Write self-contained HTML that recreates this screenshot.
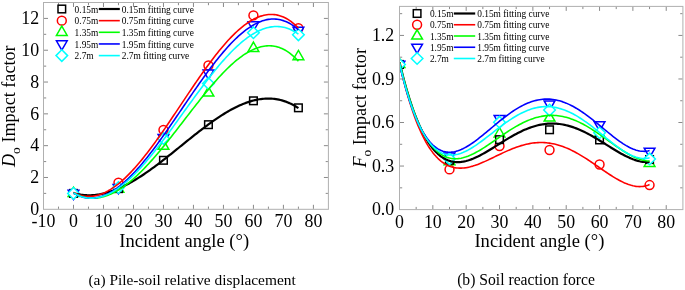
<!DOCTYPE html>
<html><head><meta charset="utf-8"><style>
html,body{margin:0;padding:0;background:#fff;}
body{width:685px;height:290px;overflow:hidden;}
svg{display:block;font-family:"Liberation Serif", serif;filter:blur(0.35px);}
</style></head><body>
<svg width="685" height="290" viewBox="0 0 685 290" fill="#000">
<clipPath id="cl"><rect x="43.5" y="2.5" width="284.9" height="206.8"/></clipPath>
<g clip-path="url(#cl)">
<circle cx="73.49" cy="193.39" r="4.45" fill="#fff" stroke="#ff0000" stroke-width="1.5"/>
<circle cx="118.47" cy="182.58" r="4.45" fill="#fff" stroke="#ff0000" stroke-width="1.5"/>
<circle cx="163.46" cy="129.92" r="4.45" fill="#fff" stroke="#ff0000" stroke-width="1.5"/>
<circle cx="208.44" cy="65.49" r="4.45" fill="#fff" stroke="#ff0000" stroke-width="1.5"/>
<circle cx="253.43" cy="15.39" r="4.45" fill="#fff" stroke="#ff0000" stroke-width="1.5"/>
<circle cx="298.41" cy="28.27" r="4.45" fill="#fff" stroke="#ff0000" stroke-width="1.5"/>
<polygon points="73.49,187.19 78.86,196.49 68.12,196.49" fill="#fff" stroke="#00ff00" stroke-width="1.5" stroke-linejoin="miter"/>
<polygon points="118.47,183.06 123.84,192.36 113.10,192.36" fill="#fff" stroke="#00ff00" stroke-width="1.5" stroke-linejoin="miter"/>
<polygon points="163.46,139.95 168.83,149.25 158.09,149.25" fill="#fff" stroke="#00ff00" stroke-width="1.5" stroke-linejoin="miter"/>
<polygon points="208.44,86.81 213.81,96.11 203.07,96.11" fill="#fff" stroke="#00ff00" stroke-width="1.5" stroke-linejoin="miter"/>
<polygon points="253.43,42.11 258.80,51.41 248.06,51.41" fill="#fff" stroke="#00ff00" stroke-width="1.5" stroke-linejoin="miter"/>
<polygon points="298.41,50.39 303.78,59.69 293.04,59.69" fill="#fff" stroke="#00ff00" stroke-width="1.5" stroke-linejoin="miter"/>
<rect x="69.69" y="189.59" width="7.6" height="7.6" fill="#fff" stroke="#000000" stroke-width="1.5"/>
<rect x="114.67" y="184.82" width="7.6" height="7.6" fill="#fff" stroke="#000000" stroke-width="1.5"/>
<rect x="159.66" y="156.50" width="7.6" height="7.6" fill="#fff" stroke="#000000" stroke-width="1.5"/>
<rect x="204.64" y="120.87" width="7.6" height="7.6" fill="#fff" stroke="#000000" stroke-width="1.5"/>
<rect x="249.63" y="97.01" width="7.6" height="7.6" fill="#fff" stroke="#000000" stroke-width="1.5"/>
<rect x="294.61" y="104.01" width="7.6" height="7.6" fill="#fff" stroke="#000000" stroke-width="1.5"/>
<polygon points="73.49,199.59 78.86,190.29 68.12,190.29" fill="#fff" stroke="#0000ff" stroke-width="1.5" stroke-linejoin="miter"/>
<polygon points="118.47,193.71 123.84,184.41 113.10,184.41" fill="#fff" stroke="#0000ff" stroke-width="1.5" stroke-linejoin="miter"/>
<polygon points="163.46,143.76 168.83,134.46 158.09,134.46" fill="#fff" stroke="#0000ff" stroke-width="1.5" stroke-linejoin="miter"/>
<polygon points="208.44,79.33 213.81,70.03 203.07,70.03" fill="#fff" stroke="#0000ff" stroke-width="1.5" stroke-linejoin="miter"/>
<polygon points="253.43,31.13 258.80,21.83 248.06,21.83" fill="#fff" stroke="#0000ff" stroke-width="1.5" stroke-linejoin="miter"/>
<polygon points="298.41,36.54 303.78,27.24 293.04,27.24" fill="#fff" stroke="#0000ff" stroke-width="1.5" stroke-linejoin="miter"/>
<polygon points="73.49,187.59 79.29,193.39 73.49,199.19 67.69,193.39" fill="#fff" stroke="#00ffff" stroke-width="1.5"/>
<polygon points="118.47,181.71 124.27,187.51 118.47,193.31 112.67,187.51" fill="#fff" stroke="#00ffff" stroke-width="1.5"/>
<polygon points="163.46,132.71 169.26,138.51 163.46,144.31 157.66,138.51" fill="#fff" stroke="#00ffff" stroke-width="1.5"/>
<polygon points="208.44,77.67 214.24,83.47 208.44,89.27 202.64,83.47" fill="#fff" stroke="#00ffff" stroke-width="1.5"/>
<polygon points="253.43,26.92 259.23,32.72 253.43,38.52 247.63,32.72" fill="#fff" stroke="#00ffff" stroke-width="1.5"/>
<polygon points="298.41,28.99 304.21,34.79 298.41,40.59 292.61,34.79" fill="#fff" stroke="#00ffff" stroke-width="1.5"/>
<polyline points="73.49,193.06 74.99,193.47 76.49,193.83 77.99,194.15 79.49,194.43 80.99,194.67 82.49,194.86 83.99,195.02 85.49,195.13 86.98,195.20 88.48,195.23 89.98,195.23 91.48,195.19 92.98,195.10 94.48,194.99 95.98,194.83 97.48,194.64 98.98,194.42 100.48,194.16 101.98,193.86 103.48,193.53 104.98,193.17 106.48,192.78 107.98,192.35 109.48,191.90 110.98,191.41 112.48,190.90 113.98,190.35 115.47,189.78 116.97,189.17 118.47,188.54 119.97,187.89 121.47,187.20 122.97,186.50 124.47,185.76 125.97,185.00 127.47,184.22 128.97,183.42 130.47,182.59 131.97,181.74 133.47,180.87 134.97,179.98 136.47,179.06 137.97,178.13 139.47,177.18 140.97,176.21 142.47,175.23 143.96,174.23 145.46,173.21 146.96,172.17 148.46,171.12 149.96,170.06 151.46,168.98 152.96,167.89 154.46,166.79 155.96,165.67 157.46,164.55 158.96,163.41 160.46,162.26 161.96,161.11 163.46,159.95 164.96,158.77 166.46,157.60 167.96,156.41 169.46,155.22 170.96,154.02 172.45,152.82 173.95,151.62 175.45,150.41 176.95,149.20 178.45,147.99 179.95,146.77 181.45,145.56 182.95,144.35 184.45,143.14 185.95,141.93 187.45,140.72 188.95,139.51 190.45,138.31 191.95,137.11 193.45,135.92 194.95,134.73 196.45,133.55 197.95,132.38 199.45,131.21 200.94,130.06 202.44,128.91 203.94,127.77 205.44,126.65 206.94,125.53 208.44,124.43 209.94,123.34 211.44,122.26 212.94,121.20 214.44,120.15 215.94,119.12 217.44,118.10 218.94,117.10 220.44,116.12 221.94,115.16 223.44,114.22 224.94,113.29 226.44,112.39 227.94,111.51 229.43,110.65 230.93,109.81 232.43,109.00 233.93,108.21 235.43,107.45 236.93,106.71 238.43,106.00 239.93,105.32 241.43,104.67 242.93,104.04 244.43,103.44 245.93,102.88 247.43,102.34 248.93,101.84 250.43,101.37 251.93,100.93 253.43,100.53 254.93,100.16 256.43,99.83 257.92,99.54 259.42,99.28 260.92,99.06 262.42,98.88 263.92,98.73 265.42,98.63 266.92,98.57 268.42,98.55 269.92,98.58 271.42,98.64 272.92,98.75 274.42,98.91 275.92,99.11 277.42,99.36 278.92,99.66 280.42,100.00 281.92,100.40 283.42,100.84 284.92,101.33 286.41,101.88 287.91,102.47 289.41,103.12 290.91,103.83 292.41,104.58 293.91,105.40 295.41,106.27 296.91,107.19 298.41,108.18" fill="none" stroke="#000000" stroke-width="2.2" stroke-linejoin="round"/>
<polyline points="73.49,192.40 74.99,193.16 76.49,193.84 77.99,194.44 79.49,194.96 80.99,195.39 82.49,195.75 83.99,196.03 85.49,196.24 86.98,196.36 88.48,196.42 89.98,196.40 91.48,196.31 92.98,196.15 94.48,195.92 95.98,195.63 97.48,195.26 98.98,194.83 100.48,194.33 101.98,193.77 103.48,193.15 104.98,192.47 106.48,191.73 107.98,190.92 109.48,190.06 110.98,189.15 112.48,188.18 113.98,187.15 115.47,186.07 116.97,184.94 118.47,183.76 119.97,182.52 121.47,181.24 122.97,179.92 124.47,178.54 125.97,177.12 127.47,175.66 128.97,174.15 130.47,172.61 131.97,171.02 133.47,169.39 134.97,167.73 136.47,166.03 137.97,164.29 139.47,162.52 140.97,160.72 142.47,158.88 143.96,157.02 145.46,155.12 146.96,153.20 148.46,151.25 149.96,149.27 151.46,147.27 152.96,145.24 154.46,143.19 155.96,141.12 157.46,139.04 158.96,136.93 160.46,134.80 161.96,132.66 163.46,130.50 164.96,128.33 166.46,126.15 167.96,123.95 169.46,121.74 170.96,119.53 172.45,117.30 173.95,115.07 175.45,112.84 176.95,110.60 178.45,108.36 179.95,106.11 181.45,103.87 182.95,101.62 184.45,99.38 185.95,97.14 187.45,94.90 188.95,92.67 190.45,90.44 191.95,88.23 193.45,86.02 194.95,83.82 196.45,81.64 197.95,79.46 199.45,77.31 200.94,75.16 202.44,73.03 203.94,70.92 205.44,68.83 206.94,66.76 208.44,64.71 209.94,62.69 211.44,60.68 212.94,58.71 214.44,56.75 215.94,54.83 217.44,52.93 218.94,51.07 220.44,49.24 221.94,47.43 223.44,45.67 224.94,43.93 226.44,42.24 227.94,40.58 229.43,38.96 230.93,37.38 232.43,35.84 233.93,34.34 235.43,32.89 236.93,31.48 238.43,30.12 239.93,28.81 241.43,27.54 242.93,26.33 244.43,25.16 245.93,24.05 247.43,22.99 248.93,21.99 250.43,21.05 251.93,20.16 253.43,19.33 254.93,18.56 256.43,17.85 257.92,17.20 259.42,16.62 260.92,16.11 262.42,15.66 263.92,15.27 265.42,14.96 266.92,14.72 268.42,14.55 269.92,14.45 271.42,14.43 272.92,14.48 274.42,14.61 275.92,14.81 277.42,15.10 278.92,15.46 280.42,15.91 281.92,16.44 283.42,17.06 284.92,17.76 286.41,18.55 287.91,19.42 289.41,20.39 290.91,21.45 292.41,22.60 293.91,23.84 295.41,25.17 296.91,26.61 298.41,28.14" fill="none" stroke="#ff0000" stroke-width="1.6" stroke-linejoin="round"/>
<polyline points="73.49,192.84 74.99,193.65 76.49,194.40 77.99,195.07 79.49,195.67 80.99,196.21 82.49,196.68 83.99,197.08 85.49,197.42 86.98,197.69 88.48,197.90 89.98,198.05 91.48,198.13 92.98,198.16 94.48,198.12 95.98,198.02 97.48,197.86 98.98,197.65 100.48,197.38 101.98,197.05 103.48,196.66 104.98,196.23 106.48,195.73 107.98,195.19 109.48,194.59 110.98,193.95 112.48,193.25 113.98,192.50 115.47,191.71 116.97,190.86 118.47,189.98 119.97,189.04 121.47,188.06 122.97,187.04 124.47,185.98 125.97,184.87 127.47,183.72 128.97,182.54 130.47,181.31 131.97,180.05 133.47,178.75 134.97,177.41 136.47,176.04 137.97,174.63 139.47,173.19 140.97,171.72 142.47,170.22 143.96,168.69 145.46,167.13 146.96,165.54 148.46,163.92 149.96,162.28 151.46,160.61 152.96,158.92 154.46,157.21 155.96,155.48 157.46,153.72 158.96,151.94 160.46,150.15 161.96,148.34 163.46,146.51 164.96,144.66 166.46,142.81 167.96,140.93 169.46,139.05 170.96,137.15 172.45,135.25 173.95,133.33 175.45,131.41 176.95,129.48 178.45,127.55 179.95,125.61 181.45,123.66 182.95,121.72 184.45,119.77 185.95,117.82 187.45,115.88 188.95,113.94 190.45,112.00 191.95,110.06 193.45,108.13 194.95,106.21 196.45,104.29 197.95,102.39 199.45,100.49 200.94,98.61 202.44,96.73 203.94,94.88 205.44,93.03 206.94,91.21 208.44,89.40 209.94,87.61 211.44,85.84 212.94,84.09 214.44,82.36 215.94,80.66 217.44,78.98 218.94,77.33 220.44,75.70 221.94,74.11 223.44,72.54 224.94,71.01 226.44,69.50 227.94,68.03 229.43,66.60 230.93,65.20 232.43,63.84 233.93,62.51 235.43,61.23 236.93,59.99 238.43,58.79 239.93,57.63 241.43,56.52 242.93,55.46 244.43,54.44 245.93,53.48 247.43,52.56 248.93,51.70 250.43,50.88 251.93,50.13 253.43,49.43 254.93,48.78 256.43,48.20 257.92,47.67 259.42,47.20 260.92,46.80 262.42,46.46 263.92,46.19 265.42,45.99 266.92,45.85 268.42,45.78 269.92,45.78 271.42,45.85 272.92,46.00 274.42,46.23 275.92,46.53 277.42,46.90 278.92,47.36 280.42,47.90 281.92,48.52 283.42,49.22 284.92,50.01 286.41,50.89 287.91,51.85 289.41,52.90 290.91,54.05 292.41,55.28 293.91,56.61 295.41,58.04 296.91,59.56 298.41,61.18" fill="none" stroke="#00ff00" stroke-width="1.6" stroke-linejoin="round"/>
<polyline points="73.49,193.00 74.99,193.87 76.49,194.66 77.99,195.36 79.49,195.98 80.99,196.51 82.49,196.97 83.99,197.35 85.49,197.65 86.98,197.87 88.48,198.02 89.98,198.10 91.48,198.10 92.98,198.02 94.48,197.88 95.98,197.67 97.48,197.39 98.98,197.05 100.48,196.63 101.98,196.16 103.48,195.61 104.98,195.01 106.48,194.35 107.98,193.62 109.48,192.84 110.98,192.00 112.48,191.10 113.98,190.15 115.47,189.14 116.97,188.08 118.47,186.97 119.97,185.81 121.47,184.60 122.97,183.34 124.47,182.03 125.97,180.68 127.47,179.29 128.97,177.85 130.47,176.37 131.97,174.85 133.47,173.28 134.97,171.68 136.47,170.05 137.97,168.37 139.47,166.66 140.97,164.92 142.47,163.15 143.96,161.34 145.46,159.50 146.96,157.64 148.46,155.74 149.96,153.82 151.46,151.88 152.96,149.91 154.46,147.92 155.96,145.90 157.46,143.87 158.96,141.81 160.46,139.74 161.96,137.65 163.46,135.54 164.96,133.42 166.46,131.29 167.96,129.14 169.46,126.98 170.96,124.81 172.45,122.64 173.95,120.45 175.45,118.26 176.95,116.07 178.45,113.87 179.95,111.66 181.45,109.46 182.95,107.25 184.45,105.05 185.95,102.85 187.45,100.65 188.95,98.45 190.45,96.27 191.95,94.08 193.45,91.91 194.95,89.74 196.45,87.59 197.95,85.44 199.45,83.31 200.94,81.19 202.44,79.09 203.94,77.00 205.44,74.93 206.94,72.88 208.44,70.85 209.94,68.84 211.44,66.85 212.94,64.89 214.44,62.95 215.94,61.03 217.44,59.15 218.94,57.29 220.44,55.46 221.94,53.65 223.44,51.89 224.94,50.15 226.44,48.45 227.94,46.78 229.43,45.15 230.93,43.56 232.43,42.00 233.93,40.49 235.43,39.02 236.93,37.58 238.43,36.20 239.93,34.85 241.43,33.56 242.93,32.31 244.43,31.10 245.93,29.95 247.43,28.85 248.93,27.80 250.43,26.80 251.93,25.86 253.43,24.97 254.93,24.14 256.43,23.36 257.92,22.65 259.42,21.99 260.92,21.40 262.42,20.86 263.92,20.40 265.42,19.99 266.92,19.65 268.42,19.38 269.92,19.18 271.42,19.05 272.92,18.99 274.42,19.00 275.92,19.08 277.42,19.23 278.92,19.47 280.42,19.78 281.92,20.16 283.42,20.63 284.92,21.17 286.41,21.80 287.91,22.51 289.41,23.30 290.91,24.18 292.41,25.14 293.91,26.19 295.41,27.33 296.91,28.56 298.41,29.88" fill="none" stroke="#0000ff" stroke-width="1.6" stroke-linejoin="round"/>
<polyline points="73.49,192.97 74.99,193.83 76.49,194.60 77.99,195.30 79.49,195.91 80.99,196.45 82.49,196.91 83.99,197.30 85.49,197.61 86.98,197.85 88.48,198.02 89.98,198.11 91.48,198.14 92.98,198.10 94.48,197.99 95.98,197.81 97.48,197.57 98.98,197.27 100.48,196.90 101.98,196.47 103.48,195.98 104.98,195.44 106.48,194.83 107.98,194.17 109.48,193.45 110.98,192.67 112.48,191.85 113.98,190.96 115.47,190.03 116.97,189.05 118.47,188.02 119.97,186.94 121.47,185.82 122.97,184.64 124.47,183.43 125.97,182.17 127.47,180.87 128.97,179.52 130.47,178.14 131.97,176.72 133.47,175.26 134.97,173.76 136.47,172.23 137.97,170.66 139.47,169.06 140.97,167.43 142.47,165.77 143.96,164.07 145.46,162.35 146.96,160.60 148.46,158.82 149.96,157.02 151.46,155.19 152.96,153.34 154.46,151.47 155.96,149.58 157.46,147.66 158.96,145.73 160.46,143.78 161.96,141.82 163.46,139.83 164.96,137.84 166.46,135.83 167.96,133.80 169.46,131.77 170.96,129.73 172.45,127.67 173.95,125.61 175.45,123.55 176.95,121.47 178.45,119.40 179.95,117.32 181.45,115.23 182.95,113.15 184.45,111.06 185.95,108.98 187.45,106.90 188.95,104.82 190.45,102.75 191.95,100.68 193.45,98.61 194.95,96.56 196.45,94.51 197.95,92.48 199.45,90.45 200.94,88.44 202.44,86.43 203.94,84.45 205.44,82.47 206.94,80.52 208.44,78.58 209.94,76.66 211.44,74.76 212.94,72.88 214.44,71.02 215.94,69.18 217.44,67.37 218.94,65.58 220.44,63.82 221.94,62.08 223.44,60.37 224.94,58.69 226.44,57.05 227.94,55.43 229.43,53.84 230.93,52.29 232.43,50.77 233.93,49.29 235.43,47.85 236.93,46.44 238.43,45.07 239.93,43.74 241.43,42.45 242.93,41.21 244.43,40.00 245.93,38.84 247.43,37.73 248.93,36.66 250.43,35.64 251.93,34.67 253.43,33.74 254.93,32.87 256.43,32.05 257.92,31.28 259.42,30.56 260.92,29.90 262.42,29.29 263.92,28.74 265.42,28.25 266.92,27.82 268.42,27.44 269.92,27.13 271.42,26.88 272.92,26.69 274.42,26.57 275.92,26.51 277.42,26.52 278.92,26.59 280.42,26.73 281.92,26.94 283.42,27.23 284.92,27.58 286.41,28.00 287.91,28.50 289.41,29.08 290.91,29.72 292.41,30.45 293.91,31.25 295.41,32.13 296.91,33.09 298.41,34.13" fill="none" stroke="#00ffff" stroke-width="1.6" stroke-linejoin="round"/>
</g>
<rect x="43.5" y="2.5" width="284.9" height="206.8" fill="none" stroke="#b0b0b0" stroke-width="1"/>
<path d="M58.49,208.8v-2.2M58.49,3.0v2.2M73.49,208.8v-4M73.49,3.0v4M88.48,208.8v-2.2M88.48,3.0v2.2M103.48,208.8v-4M103.48,3.0v4M118.47,208.8v-2.2M118.47,3.0v2.2M133.47,208.8v-4M133.47,3.0v4M148.46,208.8v-2.2M148.46,3.0v2.2M163.46,208.8v-4M163.46,3.0v4M178.45,208.8v-2.2M178.45,3.0v2.2M193.45,208.8v-4M193.45,3.0v4M208.44,208.8v-2.2M208.44,3.0v2.2M223.44,208.8v-4M223.44,3.0v4M238.43,208.8v-2.2M238.43,3.0v2.2M253.43,208.8v-4M253.43,3.0v4M268.42,208.8v-2.2M268.42,3.0v2.2M283.42,208.8v-4M283.42,3.0v4M298.41,208.8v-2.2M298.41,3.0v2.2M313.41,208.8v-4M313.41,3.0v4M44.0,193.39h2.2M327.9,193.39h-2.2M44.0,177.48h4M327.9,177.48h-4M44.0,161.58h2.2M327.9,161.58h-2.2M44.0,145.67h4M327.9,145.67h-4M44.0,129.76h2.2M327.9,129.76h-2.2M44.0,113.85h4M327.9,113.85h-4M44.0,97.95h2.2M327.9,97.95h-2.2M44.0,82.04h4M327.9,82.04h-4M44.0,66.13h2.2M327.9,66.13h-2.2M44.0,50.22h4M327.9,50.22h-4M44.0,34.32h2.2M327.9,34.32h-2.2M44.0,18.41h4M327.9,18.41h-4" stroke="#8a8a8a" stroke-width="1" fill="none"/>
<text transform="translate(43.50,227.3) scale(0.94,1)" text-anchor="middle" font-size="19">-10</text>
<text transform="translate(73.49,227.3) scale(0.94,1)" text-anchor="middle" font-size="19">0</text>
<text transform="translate(103.48,227.3) scale(0.94,1)" text-anchor="middle" font-size="19">10</text>
<text transform="translate(133.47,227.3) scale(0.94,1)" text-anchor="middle" font-size="19">20</text>
<text transform="translate(163.46,227.3) scale(0.94,1)" text-anchor="middle" font-size="19">30</text>
<text transform="translate(193.45,227.3) scale(0.94,1)" text-anchor="middle" font-size="19">40</text>
<text transform="translate(223.44,227.3) scale(0.94,1)" text-anchor="middle" font-size="19">50</text>
<text transform="translate(253.43,227.3) scale(0.94,1)" text-anchor="middle" font-size="19">60</text>
<text transform="translate(283.42,227.3) scale(0.94,1)" text-anchor="middle" font-size="19">70</text>
<text transform="translate(313.41,227.3) scale(0.94,1)" text-anchor="middle" font-size="19">80</text>
<text transform="translate(39.2,215.10) scale(0.94,1)" text-anchor="end" font-size="19">0</text>
<text transform="translate(39.2,183.28) scale(0.94,1)" text-anchor="end" font-size="19">2</text>
<text transform="translate(39.2,151.47) scale(0.94,1)" text-anchor="end" font-size="19">4</text>
<text transform="translate(39.2,119.65) scale(0.94,1)" text-anchor="end" font-size="19">6</text>
<text transform="translate(39.2,87.84) scale(0.94,1)" text-anchor="end" font-size="19">8</text>
<text transform="translate(39.2,56.02) scale(0.94,1)" text-anchor="end" font-size="19">10</text>
<text transform="translate(39.2,24.21) scale(0.94,1)" text-anchor="end" font-size="19">12</text>
<clipPath id="cr"><rect x="399.5" y="6.4" width="283.4" height="203.2"/></clipPath>
<g clip-path="url(#cr)">
<circle cx="399.50" cy="64.46" r="4.45" fill="#fff" stroke="#ff0000" stroke-width="1.5"/>
<circle cx="449.51" cy="169.40" r="4.45" fill="#fff" stroke="#ff0000" stroke-width="1.5"/>
<circle cx="499.52" cy="146.03" r="4.45" fill="#fff" stroke="#ff0000" stroke-width="1.5"/>
<circle cx="549.54" cy="149.95" r="4.45" fill="#fff" stroke="#ff0000" stroke-width="1.5"/>
<circle cx="599.55" cy="164.46" r="4.45" fill="#fff" stroke="#ff0000" stroke-width="1.5"/>
<circle cx="649.56" cy="185.07" r="4.45" fill="#fff" stroke="#ff0000" stroke-width="1.5"/>
<polygon points="399.50,58.26 404.87,67.56 394.13,67.56" fill="#fff" stroke="#00ff00" stroke-width="1.5" stroke-linejoin="miter"/>
<polygon points="449.51,155.50 454.88,164.80 444.14,164.80" fill="#fff" stroke="#00ff00" stroke-width="1.5" stroke-linejoin="miter"/>
<polygon points="499.52,127.64 504.89,136.94 494.15,136.94" fill="#fff" stroke="#00ff00" stroke-width="1.5" stroke-linejoin="miter"/>
<polygon points="549.54,111.81 554.90,121.11 544.17,121.11" fill="#fff" stroke="#00ff00" stroke-width="1.5" stroke-linejoin="miter"/>
<polygon points="599.55,127.93 604.92,137.23 594.18,137.23" fill="#fff" stroke="#00ff00" stroke-width="1.5" stroke-linejoin="miter"/>
<polygon points="649.56,157.10 654.93,166.40 644.19,166.40" fill="#fff" stroke="#00ff00" stroke-width="1.5" stroke-linejoin="miter"/>
<rect x="395.70" y="60.66" width="7.6" height="7.6" fill="#fff" stroke="#000000" stroke-width="1.5"/>
<rect x="445.71" y="156.45" width="7.6" height="7.6" fill="#fff" stroke="#000000" stroke-width="1.5"/>
<rect x="495.72" y="135.84" width="7.6" height="7.6" fill="#fff" stroke="#000000" stroke-width="1.5"/>
<rect x="545.74" y="125.97" width="7.6" height="7.6" fill="#fff" stroke="#000000" stroke-width="1.5"/>
<rect x="595.75" y="136.13" width="7.6" height="7.6" fill="#fff" stroke="#000000" stroke-width="1.5"/>
<rect x="645.76" y="155.73" width="7.6" height="7.6" fill="#fff" stroke="#000000" stroke-width="1.5"/>
<polygon points="399.50,70.66 404.87,61.36 394.13,61.36" fill="#fff" stroke="#0000ff" stroke-width="1.5" stroke-linejoin="miter"/>
<polygon points="449.51,162.39 454.88,153.09 444.14,153.09" fill="#fff" stroke="#0000ff" stroke-width="1.5" stroke-linejoin="miter"/>
<polygon points="499.52,124.80 504.89,115.50 494.15,115.50" fill="#fff" stroke="#0000ff" stroke-width="1.5" stroke-linejoin="miter"/>
<polygon points="549.54,110.28 554.90,100.98 544.17,100.98" fill="#fff" stroke="#0000ff" stroke-width="1.5" stroke-linejoin="miter"/>
<polygon points="599.55,131.04 604.92,121.74 594.18,121.74" fill="#fff" stroke="#0000ff" stroke-width="1.5" stroke-linejoin="miter"/>
<polygon points="649.56,157.53 654.93,148.23 644.19,148.23" fill="#fff" stroke="#0000ff" stroke-width="1.5" stroke-linejoin="miter"/>
<polygon points="399.50,58.66 405.30,64.46 399.50,70.26 393.70,64.46" fill="#fff" stroke="#00ffff" stroke-width="1.5"/>
<polygon points="449.51,153.00 455.31,158.80 449.51,164.60 443.71,158.80" fill="#fff" stroke="#00ffff" stroke-width="1.5"/>
<polygon points="499.52,116.42 505.32,122.22 499.52,128.02 493.72,122.22" fill="#fff" stroke="#00ffff" stroke-width="1.5"/>
<polygon points="549.54,104.23 555.34,110.03 549.54,115.83 543.74,110.03" fill="#fff" stroke="#00ffff" stroke-width="1.5"/>
<polygon points="599.55,126.87 605.35,132.67 599.55,138.47 593.75,132.67" fill="#fff" stroke="#00ffff" stroke-width="1.5"/>
<polygon points="649.56,153.15 655.36,158.95 649.56,164.75 643.76,158.95" fill="#fff" stroke="#00ffff" stroke-width="1.5"/>
<polyline points="399.50,62.21 401.17,69.12 402.83,75.71 404.50,81.99 406.17,87.97 407.84,93.65 409.50,99.04 411.17,104.16 412.84,109.00 414.50,113.57 416.17,117.89 417.84,121.96 419.50,125.79 421.17,129.38 422.84,132.74 424.51,135.88 426.17,138.80 427.84,141.52 429.51,144.04 431.17,146.36 432.84,148.49 434.51,150.44 436.18,152.22 437.84,153.83 439.51,155.27 441.18,156.56 442.84,157.70 444.51,158.69 446.18,159.55 447.84,160.27 449.51,160.87 451.18,161.34 452.85,161.69 454.51,161.94 456.18,162.08 457.85,162.12 459.51,162.06 461.18,161.91 462.85,161.68 464.52,161.36 466.18,160.98 467.85,160.51 469.52,159.99 471.18,159.40 472.85,158.75 474.52,158.05 476.18,157.30 477.85,156.51 479.52,155.67 481.19,154.80 482.85,153.89 484.52,152.95 486.19,151.99 487.85,151.01 489.52,150.01 491.19,148.99 492.86,147.96 494.52,146.92 496.19,145.87 497.86,144.83 499.52,143.78 501.19,142.74 502.86,141.70 504.52,140.67 506.19,139.65 507.86,138.65 509.53,137.66 511.19,136.70 512.86,135.75 514.53,134.82 516.19,133.92 517.86,133.05 519.53,132.21 521.20,131.40 522.86,130.62 524.53,129.87 526.20,129.16 527.86,128.49 529.53,127.85 531.20,127.26 532.86,126.70 534.53,126.19 536.20,125.72 537.87,125.29 539.53,124.91 541.20,124.58 542.87,124.29 544.53,124.05 546.20,123.85 547.87,123.70 549.54,123.60 551.20,123.55 552.87,123.54 554.54,123.58 556.20,123.68 557.87,123.81 559.54,124.00 561.20,124.23 562.87,124.51 564.54,124.84 566.21,125.21 567.87,125.62 569.54,126.08 571.21,126.59 572.87,127.13 574.54,127.72 576.21,128.35 577.88,129.01 579.54,129.71 581.21,130.45 582.88,131.22 584.54,132.03 586.21,132.87 587.88,133.73 589.54,134.63 591.21,135.54 592.88,136.49 594.55,137.45 596.21,138.43 597.88,139.43 599.55,140.45 601.21,141.47 602.88,142.51 604.55,143.55 606.22,144.59 607.88,145.64 609.55,146.68 611.22,147.72 612.88,148.75 614.55,149.77 616.22,150.78 617.88,151.77 619.55,152.73 621.22,153.67 622.89,154.58 624.55,155.46 626.22,156.31 627.89,157.11 629.55,157.87 631.22,158.58 632.89,159.23 634.56,159.83 636.22,160.37 637.89,160.85 639.56,161.25 641.22,161.58 642.89,161.83 644.56,161.99 646.22,162.06 647.89,162.04 649.56,161.92" fill="none" stroke="#000000" stroke-width="2.2" stroke-linejoin="round"/>
<polyline points="399.50,63.78 401.17,70.85 402.83,77.61 404.50,84.04 406.17,90.17 407.84,95.99 409.50,101.52 411.17,106.77 412.84,111.75 414.50,116.45 416.17,120.89 417.84,125.08 419.50,129.03 421.17,132.73 422.84,136.21 424.51,139.46 426.17,142.50 427.84,145.33 429.51,147.96 431.17,150.39 432.84,152.63 434.51,154.70 436.18,156.59 437.84,158.31 439.51,159.86 441.18,161.27 442.84,162.52 444.51,163.63 446.18,164.61 447.84,165.45 449.51,166.17 451.18,166.76 452.85,167.25 454.51,167.62 456.18,167.90 457.85,168.07 459.51,168.16 461.18,168.15 462.85,168.07 464.52,167.91 466.18,167.67 467.85,167.37 469.52,167.01 471.18,166.58 472.85,166.11 474.52,165.58 476.18,165.01 477.85,164.40 479.52,163.75 481.19,163.07 482.85,162.36 484.52,161.63 486.19,160.88 487.85,160.10 489.52,159.32 491.19,158.52 492.86,157.71 494.52,156.90 496.19,156.09 497.86,155.29 499.52,154.48 501.19,153.69 502.86,152.90 504.52,152.13 506.19,151.37 507.86,150.63 509.53,149.92 511.19,149.22 512.86,148.55 514.53,147.91 516.19,147.29 517.86,146.71 519.53,146.15 521.20,145.64 522.86,145.15 524.53,144.71 526.20,144.30 527.86,143.93 529.53,143.60 531.20,143.32 532.86,143.08 534.53,142.88 536.20,142.72 537.87,142.62 539.53,142.55 541.20,142.54 542.87,142.57 544.53,142.64 546.20,142.77 547.87,142.94 549.54,143.16 551.20,143.42 552.87,143.73 554.54,144.09 556.20,144.50 557.87,144.95 559.54,145.45 561.20,145.99 562.87,146.57 564.54,147.20 566.21,147.87 567.87,148.58 569.54,149.33 571.21,150.12 572.87,150.94 574.54,151.80 576.21,152.70 577.88,153.62 579.54,154.58 581.21,155.57 582.88,156.58 584.54,157.62 586.21,158.68 587.88,159.76 589.54,160.86 591.21,161.97 592.88,163.10 594.55,164.24 596.21,165.38 597.88,166.53 599.55,167.68 601.21,168.83 602.88,169.98 604.55,171.12 606.22,172.25 607.88,173.36 609.55,174.46 611.22,175.53 612.88,176.58 614.55,177.60 616.22,178.59 617.88,179.54 619.55,180.45 621.22,181.32 622.89,182.13 624.55,182.90 626.22,183.60 627.89,184.24 629.55,184.82 631.22,185.32 632.89,185.75 634.56,186.09 636.22,186.35 637.89,186.51 639.56,186.58 641.22,186.54 642.89,186.40 644.56,186.14 646.22,185.76 647.89,185.26 649.56,184.62" fill="none" stroke="#ff0000" stroke-width="1.6" stroke-linejoin="round"/>
<polyline points="399.50,62.15 401.17,69.04 402.83,75.61 404.50,81.85 406.17,87.79 407.84,93.43 409.50,98.77 411.17,103.83 412.84,108.60 414.50,113.11 416.17,117.36 417.84,121.35 419.50,125.09 421.17,128.59 422.84,131.86 424.51,134.90 426.17,137.73 427.84,140.34 429.51,142.75 431.17,144.96 432.84,146.98 434.51,148.82 436.18,150.48 437.84,151.96 439.51,153.28 441.18,154.44 442.84,155.45 444.51,156.32 446.18,157.04 447.84,157.63 449.51,158.09 451.18,158.43 452.85,158.64 454.51,158.75 456.18,158.75 457.85,158.65 459.51,158.46 461.18,158.17 462.85,157.80 464.52,157.35 466.18,156.82 467.85,156.22 469.52,155.56 471.18,154.83 472.85,154.05 474.52,153.21 476.18,152.33 477.85,151.40 479.52,150.44 481.19,149.44 482.85,148.40 484.52,147.34 486.19,146.25 487.85,145.15 489.52,144.03 491.19,142.89 492.86,141.75 494.52,140.59 496.19,139.44 497.86,138.28 499.52,137.13 501.19,135.99 502.86,134.85 504.52,133.73 506.19,132.62 507.86,131.52 509.53,130.45 511.19,129.40 512.86,128.37 514.53,127.37 516.19,126.39 517.86,125.45 519.53,124.54 521.20,123.67 522.86,122.83 524.53,122.03 526.20,121.27 527.86,120.55 529.53,119.87 531.20,119.23 532.86,118.64 534.53,118.10 536.20,117.60 537.87,117.16 539.53,116.76 541.20,116.41 542.87,116.11 544.53,115.86 546.20,115.66 547.87,115.51 549.54,115.42 551.20,115.38 552.87,115.39 554.54,115.45 556.20,115.56 557.87,115.73 559.54,115.95 561.20,116.22 562.87,116.54 564.54,116.91 566.21,117.33 567.87,117.80 569.54,118.32 571.21,118.89 572.87,119.50 574.54,120.16 576.21,120.86 577.88,121.61 579.54,122.39 581.21,123.22 582.88,124.08 584.54,124.98 586.21,125.92 587.88,126.89 589.54,127.89 591.21,128.92 592.88,129.98 594.55,131.06 596.21,132.17 597.88,133.29 599.55,134.43 601.21,135.59 602.88,136.76 604.55,137.95 606.22,139.13 607.88,140.33 609.55,141.52 611.22,142.71 612.88,143.90 614.55,145.08 616.22,146.24 617.88,147.39 619.55,148.52 621.22,149.63 622.89,150.72 624.55,151.77 626.22,152.79 627.89,153.77 629.55,154.70 631.22,155.59 632.89,156.43 634.56,157.22 636.22,157.94 637.89,158.60 639.56,159.20 641.22,159.71 642.89,160.15 644.56,160.51 646.22,160.77 647.89,160.94 649.56,161.02" fill="none" stroke="#00ff00" stroke-width="1.6" stroke-linejoin="round"/>
<polyline points="399.50,64.23 401.17,71.13 402.83,77.67 404.50,83.86 406.17,89.72 407.84,95.25 409.50,100.46 411.17,105.37 412.84,109.98 414.50,114.29 416.17,118.32 417.84,122.08 419.50,125.58 421.17,128.81 422.84,131.80 424.51,134.55 426.17,137.07 427.84,139.37 429.51,141.44 431.17,143.31 432.84,144.98 434.51,146.45 436.18,147.74 437.84,148.85 439.51,149.79 441.18,150.57 442.84,151.19 444.51,151.65 446.18,151.98 447.84,152.16 449.51,152.22 451.18,152.15 452.85,151.97 454.51,151.67 456.18,151.27 457.85,150.77 459.51,150.17 461.18,149.49 462.85,148.73 464.52,147.88 466.18,146.97 467.85,145.99 469.52,144.96 471.18,143.86 472.85,142.72 474.52,141.53 476.18,140.30 477.85,139.03 479.52,137.73 481.19,136.41 482.85,135.06 484.52,133.70 486.19,132.32 487.85,130.93 489.52,129.53 491.19,128.13 492.86,126.74 494.52,125.34 496.19,123.96 497.86,122.59 499.52,121.23 501.19,119.89 502.86,118.57 504.52,117.28 506.19,116.01 507.86,114.77 509.53,113.57 511.19,112.40 512.86,111.26 514.53,110.17 516.19,109.12 517.86,108.11 519.53,107.15 521.20,106.23 522.86,105.36 524.53,104.55 526.20,103.78 527.86,103.07 529.53,102.42 531.20,101.82 532.86,101.28 534.53,100.79 536.20,100.37 537.87,100.00 539.53,99.70 541.20,99.46 542.87,99.27 544.53,99.15 546.20,99.09 547.87,99.10 549.54,99.16 551.20,99.29 552.87,99.48 554.54,99.73 556.20,100.04 557.87,100.41 559.54,100.84 561.20,101.33 562.87,101.88 564.54,102.48 566.21,103.14 567.87,103.86 569.54,104.62 571.21,105.44 572.87,106.31 574.54,107.23 576.21,108.19 577.88,109.20 579.54,110.26 581.21,111.35 582.88,112.48 584.54,113.65 586.21,114.85 587.88,116.08 589.54,117.35 591.21,118.63 592.88,119.94 594.55,121.28 596.21,122.62 597.88,123.99 599.55,125.36 601.21,126.74 602.88,128.12 604.55,129.50 606.22,130.88 607.88,132.25 609.55,133.61 611.22,134.96 612.88,136.28 614.55,137.58 616.22,138.85 617.88,140.09 619.55,141.29 621.22,142.45 622.89,143.57 624.55,144.63 626.22,145.63 627.89,146.57 629.55,147.44 631.22,148.24 632.89,148.96 634.56,149.60 636.22,150.15 637.89,150.60 639.56,150.95 641.22,151.19 642.89,151.32 644.56,151.33 646.22,151.21 647.89,150.96 649.56,150.57" fill="none" stroke="#0000ff" stroke-width="1.6" stroke-linejoin="round"/>
<polyline points="399.50,63.25 401.17,70.25 402.83,76.89 404.50,83.19 406.17,89.16 407.84,94.80 409.50,100.13 411.17,105.15 412.84,109.88 414.50,114.31 416.17,118.47 417.84,122.35 419.50,125.97 421.17,129.34 422.84,132.46 424.51,135.33 426.17,137.98 427.84,140.41 429.51,142.62 431.17,144.62 432.84,146.42 434.51,148.03 436.18,149.45 437.84,150.70 439.51,151.77 441.18,152.68 442.84,153.43 444.51,154.03 446.18,154.49 447.84,154.81 449.51,155.00 451.18,155.07 452.85,155.01 454.51,154.85 456.18,154.57 457.85,154.20 459.51,153.73 461.18,153.18 462.85,152.54 464.52,151.82 466.18,151.03 467.85,150.17 469.52,149.25 471.18,148.28 472.85,147.25 474.52,146.18 476.18,145.06 477.85,143.90 479.52,142.72 481.19,141.50 482.85,140.26 484.52,138.99 486.19,137.72 487.85,136.43 489.52,135.13 491.19,133.82 492.86,132.52 494.52,131.22 496.19,129.92 497.86,128.64 499.52,127.36 501.19,126.11 502.86,124.87 504.52,123.65 506.19,122.46 507.86,121.29 509.53,120.15 511.19,119.05 512.86,117.98 514.53,116.95 516.19,115.96 517.86,115.00 519.53,114.10 521.20,113.23 522.86,112.41 524.53,111.65 526.20,110.93 527.86,110.26 529.53,109.64 531.20,109.08 532.86,108.58 534.53,108.12 536.20,107.73 537.87,107.39 539.53,107.11 541.20,106.89 542.87,106.73 544.53,106.63 546.20,106.59 547.87,106.61 549.54,106.69 551.20,106.82 552.87,107.02 554.54,107.28 556.20,107.59 557.87,107.97 559.54,108.40 561.20,108.89 562.87,109.43 564.54,110.03 566.21,110.68 567.87,111.39 569.54,112.15 571.21,112.96 572.87,113.81 574.54,114.72 576.21,115.67 577.88,116.67 579.54,117.70 581.21,118.78 582.88,119.89 584.54,121.04 586.21,122.22 587.88,123.44 589.54,124.68 591.21,125.95 592.88,127.24 594.55,128.55 596.21,129.87 597.88,131.21 599.55,132.57 601.21,133.92 602.88,135.29 604.55,136.65 606.22,138.01 607.88,139.36 609.55,140.71 611.22,142.03 612.88,143.34 614.55,144.63 616.22,145.89 617.88,147.11 619.55,148.31 621.22,149.46 622.89,150.56 624.55,151.62 626.22,152.62 627.89,153.56 629.55,154.43 631.22,155.24 632.89,155.97 634.56,156.61 636.22,157.18 637.89,157.64 639.56,158.02 641.22,158.28 642.89,158.44 644.56,158.48 646.22,158.40 647.89,158.19 649.56,157.84" fill="none" stroke="#00ffff" stroke-width="1.6" stroke-linejoin="round"/>
</g>
<rect x="399.5" y="6.4" width="283.4" height="203.2" fill="none" stroke="#b0b0b0" stroke-width="1"/>
<path d="M416.17,209.1v-2.2M416.17,6.9v2.2M432.84,209.1v-4M432.84,6.9v4M449.51,209.1v-2.2M449.51,6.9v2.2M466.18,209.1v-4M466.18,6.9v4M482.85,209.1v-2.2M482.85,6.9v2.2M499.52,209.1v-4M499.52,6.9v4M516.19,209.1v-2.2M516.19,6.9v2.2M532.86,209.1v-4M532.86,6.9v4M549.54,209.1v-2.2M549.54,6.9v2.2M566.21,209.1v-4M566.21,6.9v4M582.88,209.1v-2.2M582.88,6.9v2.2M599.55,209.1v-4M599.55,6.9v4M616.22,209.1v-2.2M616.22,6.9v2.2M632.89,209.1v-4M632.89,6.9v4M649.56,209.1v-2.2M649.56,6.9v2.2M666.23,209.1v-4M666.23,6.9v4M400.0,187.83h2.2M682.4,187.83h-2.2M400.0,166.06h4M682.4,166.06h-4M400.0,144.29h2.2M682.4,144.29h-2.2M400.0,122.51h4M682.4,122.51h-4M400.0,100.74h2.2M682.4,100.74h-2.2M400.0,78.97h4M682.4,78.97h-4M400.0,57.20h2.2M682.4,57.20h-2.2M400.0,35.43h4M682.4,35.43h-4M400.0,13.66h2.2M682.4,13.66h-2.2" stroke="#8a8a8a" stroke-width="1" fill="none"/>
<text transform="translate(399.50,227.9) scale(0.94,1)" text-anchor="middle" font-size="19">0</text>
<text transform="translate(432.84,227.9) scale(0.94,1)" text-anchor="middle" font-size="19">10</text>
<text transform="translate(466.18,227.9) scale(0.94,1)" text-anchor="middle" font-size="19">20</text>
<text transform="translate(499.52,227.9) scale(0.94,1)" text-anchor="middle" font-size="19">30</text>
<text transform="translate(532.86,227.9) scale(0.94,1)" text-anchor="middle" font-size="19">40</text>
<text transform="translate(566.21,227.9) scale(0.94,1)" text-anchor="middle" font-size="19">50</text>
<text transform="translate(599.55,227.9) scale(0.94,1)" text-anchor="middle" font-size="19">60</text>
<text transform="translate(632.89,227.9) scale(0.94,1)" text-anchor="middle" font-size="19">70</text>
<text transform="translate(666.23,227.9) scale(0.94,1)" text-anchor="middle" font-size="19">80</text>
<text transform="translate(394.2,215.40) scale(0.94,1)" text-anchor="end" font-size="19">0.0</text>
<text transform="translate(394.2,171.86) scale(0.94,1)" text-anchor="end" font-size="19">0.3</text>
<text transform="translate(394.2,128.31) scale(0.94,1)" text-anchor="end" font-size="19">0.6</text>
<text transform="translate(394.2,84.77) scale(0.94,1)" text-anchor="end" font-size="19">0.9</text>
<text transform="translate(394.2,41.23) scale(0.94,1)" text-anchor="end" font-size="19">1.2</text>
<rect x="58.00" y="5.20" width="7.6" height="7.6" fill="#fff" stroke="#000000" stroke-width="1.5"/>
<text x="74.6" y="12.60" font-size="9.4">0.15m</text>
<line x1="98.8" y1="9.00" x2="119.8" y2="9.00" stroke="#000000" stroke-width="2.2"/>
<text x="121.8" y="12.60" font-size="9.4">0.15m fitting curve</text>
<circle cx="61.80" cy="20.65" r="4.45" fill="#fff" stroke="#ff0000" stroke-width="1.5"/>
<text x="74.6" y="24.25" font-size="9.4">0.75m</text>
<line x1="98.8" y1="20.65" x2="119.8" y2="20.65" stroke="#ff0000" stroke-width="1.6"/>
<text x="121.8" y="24.25" font-size="9.4">0.75m fitting curve</text>
<polygon points="61.80,26.10 67.17,35.40 56.43,35.40" fill="#fff" stroke="#00ff00" stroke-width="1.5" stroke-linejoin="miter"/>
<text x="74.6" y="35.90" font-size="9.4">1.35m</text>
<line x1="98.8" y1="32.30" x2="119.8" y2="32.30" stroke="#00ff00" stroke-width="1.6"/>
<text x="121.8" y="35.90" font-size="9.4">1.35m fitting curve</text>
<polygon points="61.80,50.15 67.17,40.85 56.43,40.85" fill="#fff" stroke="#0000ff" stroke-width="1.5" stroke-linejoin="miter"/>
<text x="74.6" y="47.55" font-size="9.4">1.95m</text>
<line x1="98.8" y1="43.95" x2="119.8" y2="43.95" stroke="#0000ff" stroke-width="1.6"/>
<text x="121.8" y="47.55" font-size="9.4">1.95m fitting curve</text>
<polygon points="61.80,49.80 67.60,55.60 61.80,61.40 56.00,55.60" fill="#fff" stroke="#00ffff" stroke-width="1.5"/>
<text x="74.6" y="59.20" font-size="9.4">2.7m</text>
<line x1="98.8" y1="55.60" x2="119.8" y2="55.60" stroke="#00ffff" stroke-width="1.6"/>
<text x="121.8" y="59.20" font-size="9.4">2.7m fitting curve</text>
<rect x="413.30" y="9.70" width="7.6" height="7.6" fill="#fff" stroke="#000000" stroke-width="1.5"/>
<text x="429.9" y="17.10" font-size="9.4">0.15m</text>
<line x1="453.8" y1="13.50" x2="475.2" y2="13.50" stroke="#000000" stroke-width="2.2"/>
<text x="477.2" y="17.10" font-size="9.4">0.15m fitting curve</text>
<circle cx="417.10" cy="24.75" r="4.45" fill="#fff" stroke="#ff0000" stroke-width="1.5"/>
<text x="429.9" y="28.35" font-size="9.4">0.75m</text>
<line x1="453.8" y1="24.75" x2="475.2" y2="24.75" stroke="#ff0000" stroke-width="1.6"/>
<text x="477.2" y="28.35" font-size="9.4">0.75m fitting curve</text>
<polygon points="417.10,29.80 422.47,39.10 411.73,39.10" fill="#fff" stroke="#00ff00" stroke-width="1.5" stroke-linejoin="miter"/>
<text x="429.9" y="39.60" font-size="9.4">1.35m</text>
<line x1="453.8" y1="36.00" x2="475.2" y2="36.00" stroke="#00ff00" stroke-width="1.6"/>
<text x="477.2" y="39.60" font-size="9.4">1.35m fitting curve</text>
<polygon points="417.10,53.45 422.47,44.15 411.73,44.15" fill="#fff" stroke="#0000ff" stroke-width="1.5" stroke-linejoin="miter"/>
<text x="429.9" y="50.85" font-size="9.4">1.95m</text>
<line x1="453.8" y1="47.25" x2="475.2" y2="47.25" stroke="#0000ff" stroke-width="1.6"/>
<text x="477.2" y="50.85" font-size="9.4">1.95m fitting curve</text>
<polygon points="417.10,52.70 422.90,58.50 417.10,64.30 411.30,58.50" fill="#fff" stroke="#00ffff" stroke-width="1.5"/>
<text x="429.9" y="62.10" font-size="9.4">2.7m</text>
<line x1="453.8" y1="58.50" x2="475.2" y2="58.50" stroke="#00ffff" stroke-width="1.6"/>
<text x="477.2" y="62.10" font-size="9.4">2.7m fitting curve</text>
<text x="184.2" y="247.4" text-anchor="middle" font-size="18.55">Incident angle (°)</text>
<text x="539.4" y="247.4" text-anchor="middle" font-size="18.55">Incident angle (°)</text>
<text transform="translate(15.2,167.0) rotate(-90)" font-size="18.15"><tspan font-style="italic">D</tspan><tspan font-size="13.5" dy="5.2">o</tspan><tspan dy="-5.2"> Impact factor</tspan></text>
<text transform="translate(365.8,167.6) rotate(-90)" font-size="18.15"><tspan font-style="italic">F</tspan><tspan font-size="13.5" dy="5.2">o</tspan><tspan dy="-5.2"> Impact factor</tspan></text>
<text x="192.1" y="284.8" text-anchor="middle" font-size="15.4">(a) Pile-soil relative displacement</text>
<text x="526" y="284.8" text-anchor="middle" font-size="15.65">(b) Soil reaction force</text>
</svg>
</body></html>
